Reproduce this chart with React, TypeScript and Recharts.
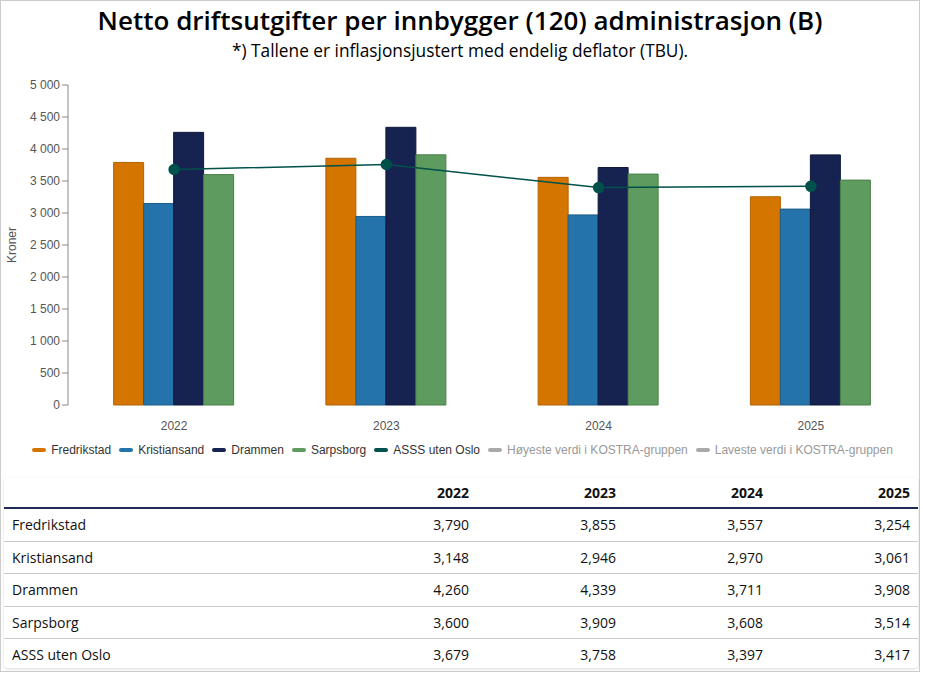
import React from 'react'
import { ComposedChart, Bar, Line, XAxis, YAxis, Legend } from 'recharts'

const years = ['2022', '2023', '2024', '2025']
const fredrikstad = [3790, 3855, 3557, 3254]
const kristiansand = [3148, 2946, 2970, 3061]
const drammen = [4260, 4339, 3711, 3908]
const sarpsborg = [3600, 3909, 3608, 3514]
const asss = [3679, 3758, 3397, 3417]
const yTicks = [0, 500, 1000, 1500, 2000, 2500, 3000, 3500, 4000, 4500, 5000]
const boundaryTicks = [0, 1, 2, 3, 4]

const series = [
  { key: 'fredrikstad', name: 'Fredrikstad', values: fredrikstad, color: '#d47500', stroke: '#b36200' },
  { key: 'kristiansand', name: 'Kristiansand', values: kristiansand, color: '#2473aa', stroke: '#1c5d8a' },
  { key: 'drammen', name: 'Drammen', values: drammen, color: '#162350', stroke: '#0f1a3d' },
  { key: 'sarpsborg', name: 'Sarpsborg', values: sarpsborg, color: '#5e9b5e', stroke: '#4a804a' },
]
const lineSeries = { key: 'asss', name: 'ASSS uten Oslo', values: asss, color: '#00504b' }
const extraLegend = ['Høyeste verdi i KOSTRA-gruppen', 'Laveste verdi i KOSTRA-gruppen']

const data = years.map((year, i) => ({
  year,
  fredrikstad: fredrikstad[i],
  kristiansand: kristiansand[i],
  drammen: drammen[i],
  sarpsborg: sarpsborg[i],
  asss: asss[i],
}))

const tableRows = [...series, lineSeries]

const fmtAxis = (v: number) => String(v).replace(/\B(?=(\d{3})+(?!\d))/g, ' ')
const fmtTable = (v: number) => v.toLocaleString('en-US')

function LegendContent() {
  const items = [
    ...series.map((s) => ({ name: s.name, color: s.color, text: '#333' })),
    { name: lineSeries.name, color: lineSeries.color, text: '#333' },
    ...extraLegend.map((n) => ({ name: n, color: '#aaa', text: '#999' })),
  ]
  return (
    <div style={{ height: 35, display: 'flex', justifyContent: 'center', alignItems: 'flex-start', paddingTop: 7, paddingLeft: 16, boxSizing: 'border-box' }}>
      {items.map((it) => (
        <div key={it.name} style={{ display: 'flex', alignItems: 'center', height: 16, marginRight: 8, fontFamily: 'Arial, "Liberation Sans"', fontSize: 12, color: it.text }}>
          <span style={{ display: 'inline-block', width: 14, height: 4, borderRadius: 2, background: it.color, marginRight: 5 }} />
          {it.name}
        </div>
      ))}
    </div>
  )
}

export default function App() {
  const cell: React.CSSProperties = { padding: '0 8px', height: 31.5, textAlign: 'right' }
  return (
    <div style={{ position: 'absolute', left: 0, top: 0, width: 920, height: 672, border: '1px solid #ccc', boxSizing: 'border-box', background: '#fff', fontFamily: '"Open Sans", sans-serif' }}>
      <div style={{ position: 'absolute', top: 1, left: 0, width: '100%', textAlign: 'center', fontSize: 26, fontWeight: 600, color: '#000' }}>
        Netto driftsutgifter per innbygger (120) administrasjon (B)
      </div>
      <div style={{ position: 'absolute', top: 38, left: 0, width: '100%', textAlign: 'center', fontSize: 17.3, color: '#000' }}>
        *) Tallene er inflasjonsjustert med endelig deflator (TBU).
      </div>
      <div style={{ position: 'absolute', top: 69, left: -1 }}>
        <ComposedChart width={918} height={400} data={data} margin={{ top: 15, right: 1, left: 0, bottom: 0 }} barCategoryGap="21.5%" barGap={0}>
          <XAxis xAxisId="b" type="number" domain={[0, 4]} ticks={boundaryTicks} tick={false} height={0} tickSize={6} stroke="#aaa" />
          <XAxis xAxisId="cat" dataKey="year" axisLine={false} tickSize={0} tickMargin={16} height={30} tick={{ fill: '#555', fontSize: 12, fontFamily: 'Arial, "Liberation Sans"' }} />
          <YAxis
            width={68}
            domain={[0, 5000]}
            ticks={yTicks}
            tickFormatter={fmtAxis}
            tickSize={6}
            stroke="#888"
            tick={{ fill: '#555', fontSize: 12, fontFamily: 'Arial, "Liberation Sans"' }}
            label={{ value: 'Kroner', angle: -90, position: 'insideLeft', offset: 12, style: { textAnchor: 'middle', fill: '#555', fontSize: 12, fontFamily: 'Arial, "Liberation Sans"' } }}
          />
          <Legend verticalAlign="bottom" content={<LegendContent />} />
          {series.map((s) => (
            <Bar key={s.key} xAxisId="cat" dataKey={s.key} name={s.name} fill={s.color} stroke={s.stroke} strokeWidth={1} isAnimationActive={false} />
          ))}
          <Line xAxisId="cat" dataKey={lineSeries.key} name={lineSeries.name} stroke={lineSeries.color} strokeWidth={1.5} dot={{ r: 5, fill: lineSeries.color, stroke: lineSeries.color }} isAnimationActive={false} />
        </ComposedChart>
      </div>
      <div style={{ position: 'absolute', top: 477, left: 3, width: 914, height: 190, borderRadius: 4, boxShadow: '0 1px 3px rgba(0,0,0,0.15)' }}>
        <table style={{ width: '100%', tableLayout: 'fixed', borderCollapse: 'collapse', fontSize: 14, color: '#111' }}>
          <colgroup>
            <col style={{ width: 326 }} />
            {years.map((y) => (
              <col key={y} style={{ width: 147 }} />
            ))}
          </colgroup>
          <thead>
            <tr style={{ borderBottom: '2px solid #1f2a5a' }}>
              <th style={{ ...cell, height: 29 }} />
              {years.map((y) => (
                <th key={y} style={{ ...cell, height: 29, fontWeight: 700 }}>{y}</th>
              ))}
            </tr>
          </thead>
          <tbody>
            {tableRows.map((r, ri) => (
              <tr key={r.key} style={{ borderBottom: ri < tableRows.length - 1 ? '1px solid #ccc' : 'none' }}>
                <td style={{ ...cell, textAlign: 'left' }}>{r.name}</td>
                {r.values.map((v, i) => (
                  <td key={i} style={cell}>{fmtTable(v)}</td>
                ))}
              </tr>
            ))}
          </tbody>
        </table>
      </div>
    </div>
  )
}
